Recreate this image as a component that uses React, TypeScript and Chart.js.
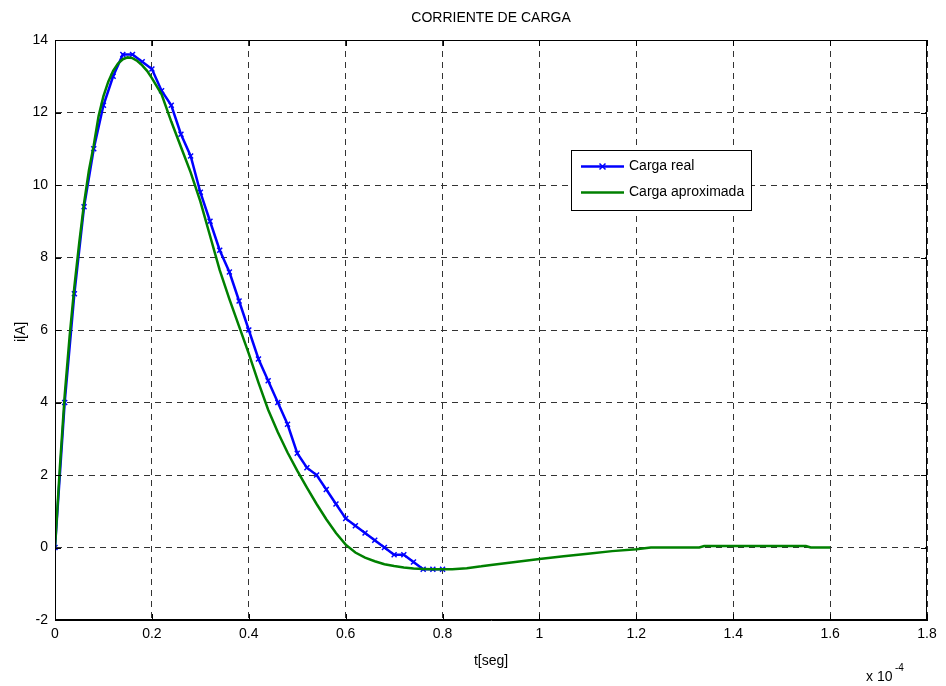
import React, { useEffect, useRef } from "react";
import { Chart, registerables } from "chart.js";

Chart.register(...registerables);

// ---- data (time in units of 1e-4 s, current in A) ----
const realT = [
  0, 0.02, 0.04, 0.06, 0.08, 0.1, 0.12, 0.14, 0.16, 0.18, 0.2, 0.22, 0.24, 0.26,
  0.28, 0.3, 0.32, 0.34, 0.36, 0.38, 0.4, 0.42, 0.44, 0.46, 0.48, 0.5, 0.52, 0.54,
  0.56, 0.58, 0.6, 0.62, 0.64, 0.66, 0.68, 0.7, 0.72, 0.74, 0.76, 0.78, 0.8,
];
const realI = [
  0, 4.0, 7.0, 9.4, 11.0, 12.2, 13.0, 13.6, 13.6, 13.4, 13.2, 12.6, 12.2, 11.4,
  10.8, 9.8, 9.0, 8.2, 7.6, 6.8, 6.0, 5.2, 4.6, 4.0, 3.4, 2.6, 2.2, 2.0,
  1.6, 1.2, 0.8, 0.6, 0.4, 0.2, 0.0, -0.2, -0.2, -0.4, -0.6, -0.6, -0.6,
];

const approxT = [
  0, 0.01, 0.02, 0.03, 0.04, 0.05, 0.06, 0.07, 0.08, 0.09, 0.1, 0.11, 0.12, 0.13,
  0.14, 0.15, 0.16, 0.17, 0.18, 0.19, 0.2, 0.22, 0.24, 0.26, 0.28, 0.3, 0.32, 0.34,
  0.36, 0.38, 0.4, 0.42, 0.44, 0.46, 0.48, 0.5, 0.52, 0.54, 0.56, 0.58, 0.6, 0.62,
  0.64, 0.66, 0.68, 0.7, 0.72, 0.74, 0.76, 0.78, 0.8, 0.82, 0.85, 0.88, 0.9, 0.95,
  1.0, 1.05, 1.1, 1.15, 1.2, 1.23, 1.33, 1.34, 1.55, 1.56, 1.6,
];
const approxI = [
  0, 2.2, 4.2, 5.8, 7.2, 8.4, 9.5, 10.4, 11.1, 11.9, 12.45, 12.85, 13.15, 13.35,
  13.47, 13.52, 13.5, 13.42, 13.3, 13.15, 12.95, 12.5, 11.75, 11.05, 10.35, 9.55, 8.6, 7.65,
  6.85, 6.1, 5.35, 4.55, 3.8, 3.18, 2.62, 2.12, 1.65, 1.2, 0.78, 0.4, 0.08, -0.14,
  -0.28, -0.38, -0.46, -0.51, -0.55, -0.58, -0.59, -0.6, -0.6, -0.6, -0.57, -0.52, -0.48, -0.4,
  -0.32, -0.24, -0.17, -0.1, -0.05, 0.0, 0.0, 0.04, 0.04, 0.0, 0.0,
];

const xTickLabels = ["0", "0.2", "0.4", "0.6", "0.8", "1", "1.2", "1.4", "1.6", "1.8"];
const yTickLabels = ["-2", "0", "2", "4", "6", "8", "10", "12", "14"];

const titleText = "CORRIENTE DE CARGA";
const xLabel = "t[seg]";
const yLabel = "i[A]";
const legendLabels = ["Carga real", "Carga aproximada"];

const BLUE = "#0000ff";
const GREEN = "#008000";
const FONT = "'Liberation Sans', Arial, sans-serif";

const decorPlugin = {
  id: "decor",
  afterDraw(chart: any) {
    const { ctx, chartArea } = chart;
    const { left, right, top, bottom } = chartArea;
    const xs = chart.scales.x;
    const ys = chart.scales.y;
    ctx.save();
    // box
    ctx.strokeStyle = "#000";
    ctx.lineWidth = 1;
    ctx.setLineDash([]);
    ctx.strokeRect(left + 0.5, top + 0.5, right - left - 1, bottom - top - 1);
    // inward ticks
    ctx.beginPath();
    xs.ticks.forEach((t: any) => {
      const px = Math.round(xs.getPixelForValue(t.value)) + 0.5;
      ctx.moveTo(px, bottom);
      ctx.lineTo(px, bottom - 6);
      ctx.moveTo(px, top);
      ctx.lineTo(px, top + 6);
    });
    ys.ticks.forEach((t: any) => {
      const py = Math.round(ys.getPixelForValue(t.value)) + 0.5;
      ctx.moveTo(left, py);
      ctx.lineTo(left + 6, py);
      ctx.moveTo(right, py);
      ctx.lineTo(right - 6, py);
    });
    ctx.stroke();

    // title
    ctx.fillStyle = "#000";
    ctx.font = `14px ${FONT}`;
    ctx.textAlign = "center";
    ctx.textBaseline = "middle";
    ctx.fillText(titleText, (left + right) / 2, 18);
    // x label
    ctx.fillText(xLabel, (left + right) / 2, 661);
    // y label
    ctx.save();
    ctx.translate(21, (top + bottom) / 2 + 2);
    ctx.rotate(-Math.PI / 2);
    ctx.fillText(yLabel, 0, 0);
    ctx.restore();
    // exponent
    ctx.textAlign = "left";
    ctx.textBaseline = "alphabetic";
    ctx.fillText("x 10", 866, 681);
    ctx.font = `10px ${FONT}`;
    ctx.fillText("-4", 895, 671);

    // legend
    const bx = 571, by = 150, bw = 180, bh = 60;
    ctx.fillStyle = "#fff";
    ctx.fillRect(bx, by, bw, bh);
    ctx.strokeStyle = "#000";
    ctx.lineWidth = 1;
    ctx.strokeRect(bx + 0.5, by + 0.5, bw, bh);
    const rows = [166.5, 192.5];
    const cols = [BLUE, GREEN];
    rows.forEach((ry, i) => {
      ctx.strokeStyle = cols[i];
      ctx.lineWidth = 2.5;
      ctx.beginPath();
      ctx.moveTo(581, ry);
      ctx.lineTo(624, ry);
      ctx.stroke();
      if (i === 0) {
        ctx.lineWidth = 1.5;
        ctx.beginPath();
        ctx.moveTo(599.5, ry - 3);
        ctx.lineTo(605.5, ry + 3);
        ctx.moveTo(605.5, ry - 3);
        ctx.lineTo(599.5, ry + 3);
        ctx.stroke();
      }
      ctx.fillStyle = "#000";
      ctx.font = `14px ${FONT}`;
      ctx.textAlign = "left";
      ctx.textBaseline = "middle";
      ctx.fillText(legendLabels[i], 629, ry);
    });
    ctx.restore();
  },
};

export default function App() {
  const ref = useRef<HTMLCanvasElement | null>(null);
  useEffect(() => {
    if (!ref.current) return;
    const realData = realT.map((t, i) => ({ x: t, y: realI[i] }));
    const approxData = approxT.map((t, i) => ({ x: t, y: approxI[i] }));
    const chart = new Chart(ref.current, {
      type: "line",
      data: {
        datasets: [
          {
            label: legendLabels[0],
            data: realData,
            borderColor: BLUE,
            backgroundColor: BLUE,
            borderWidth: 2.5,
            pointStyle: "crossRot",
            pointRadius: 3.5,
            pointBorderWidth: 1.5,
            pointBorderColor: BLUE,
            tension: 0,
            order: 1,
          },
          {
            label: legendLabels[1],
            data: approxData,
            borderColor: GREEN,
            backgroundColor: GREEN,
            borderWidth: 2.5,
            pointRadius: 0,
            tension: 0,
            order: 0,
          },
        ],
      },
      options: {
        animation: false,
        responsive: false,
        maintainAspectRatio: false,
        layout: { padding: { left: 0, top: 40, right: 19, bottom: 0 } },
        plugins: {
          legend: { display: false },
          title: { display: false },
          tooltip: { enabled: false },
        },
        scales: {
          x: {
            type: "linear",
            min: 0,
            max: 1.8,
            afterFit: (s: any) => {
              s.height = 66;
            },
            ticks: {
              stepSize: 0.2,
              padding: 6,
              color: "#000",
              font: { family: FONT, size: 14 },
              maxRotation: 0,
              autoSkip: false,
              callback: (_v: any, i: number) => xTickLabels[i],
            },
            grid: { color: "#333", lineWidth: 1, drawTicks: false },
            border: { display: true, color: "#000", dash: [6, 5] },
          },
          y: {
            type: "linear",
            min: -2,
            max: 14,
            afterFit: (s: any) => {
              s.width = 55;
            },
            ticks: {
              stepSize: 2,
              padding: 7,
              color: "#000",
              font: { family: FONT, size: 14 },
              autoSkip: false,
              callback: (_v: any, i: number) => yTickLabels[i],
            },
            grid: { color: "#333", lineWidth: 1, drawTicks: false },
            border: { display: true, color: "#000", dash: [6, 5] },
          },
        },
      },
      plugins: [decorPlugin],
    });
    return () => chart.destroy();
  }, []);
  return (
    <div style={{ position: "absolute", left: 0, top: 0, width: 946, height: 686, background: "#fff" }}>
      <canvas ref={ref} width={946} height={686} style={{ display: "block" }} />
    </div>
  );
}
